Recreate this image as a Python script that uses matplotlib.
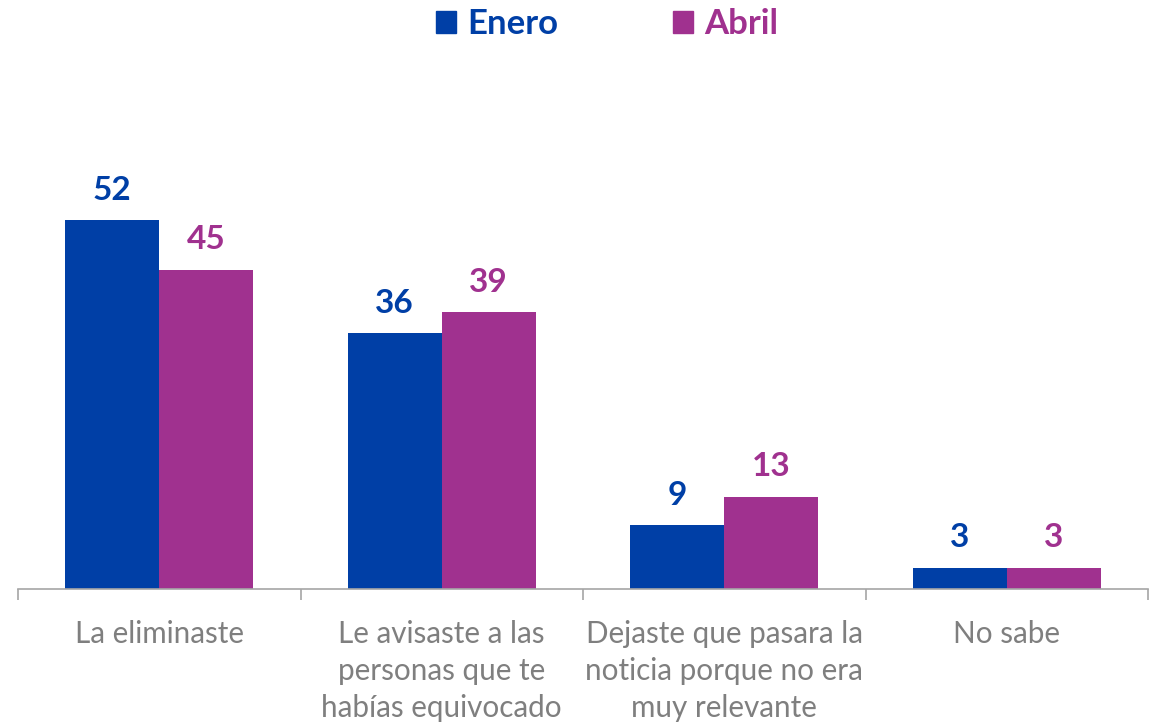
import matplotlib.pyplot as plt
import numpy as np
from matplotlib.patches import Patch

plt.rcParams['font.family'] = ['Lato', 'DejaVu Sans']

categories = ["La eliminaste",
              "Le avisaste a las\npersonas que te\nhabías equivocado",
              "Dejaste que pasara la\nnoticia porque no era\nmuy relevante",
              "No sabe"]
enero = [52, 36, 9, 3]
abril = [45, 39, 13, 3]

blue = '#003FA6'
purple = '#A0318F'

fig = plt.figure(figsize=(11.59, 7.26), dpi=100)
# axis line at y=589 px, x from 18 to 1148 px
ymax = 70
ax = fig.add_axes([18 / 1159, 137 / 726, 1130 / 1159, ymax * 7.1 / 726])

x = np.arange(len(categories))
w = 0.333
b1 = ax.bar(x - w / 2, enero, w, color=blue)
b2 = ax.bar(x + w / 2, abril, w, color=purple)

for bars, col in ((b1, blue), (b2, purple)):
    for r in bars:
        ax.annotate(f"{r.get_height():g}", (r.get_x() + r.get_width() / 2, r.get_height()),
                    xytext=(0, 11), textcoords='offset points', ha='center', va='bottom',
                    fontsize=24, fontweight='bold', color=col)

ax.set_xlim(-0.5, len(categories) - 0.5)
ax.set_ylim(0, ymax)
for s in ['top', 'right', 'left']:
    ax.spines[s].set_visible(False)
ax.spines['bottom'].set_color('#A6A6A6')
ax.spines['bottom'].set_linewidth(1.2)
ax.set_yticks([])

ax.set_xticks(np.arange(len(categories) + 1) - 0.5)
ax.set_xticklabels([])
ax.tick_params(axis='x', which='major', length=8, color='#A6A6A6', width=1.2)
ax.set_xticks(x, minor=True)
ax.set_xticklabels(categories, minor=True, fontsize=21.3, color='#7F7F7F', linespacing=1.41)
ax.tick_params(axis='x', which='minor', length=0, pad=22)

handles = [Patch(color=blue), Patch(color=purple)]
leg = fig.legend(handles, ['Enero', 'Abril'], loc='upper center', bbox_to_anchor=(0.524, 1.032),
                 ncol=2, frameon=False, handlelength=0.58, handleheight=0.58, handletextpad=0.32,
                 columnspacing=3.3, prop={'size': 25, 'weight': 'bold'})
for t, c in zip(leg.get_texts(), [blue, purple]):
    t.set_color(c)

fig.savefig('out.png', dpi=100)
